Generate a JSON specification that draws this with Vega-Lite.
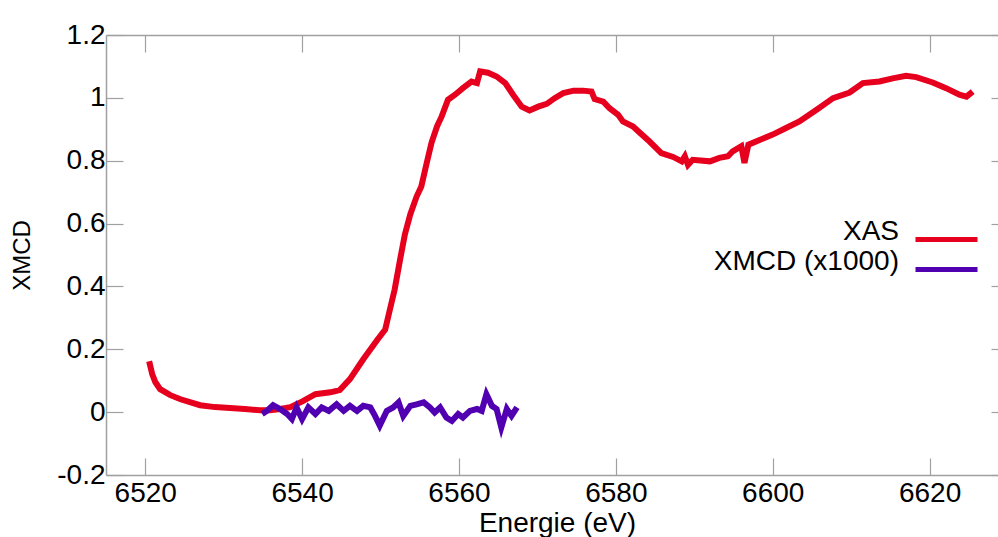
{
  "$schema": "https://vega.github.io/schema/vega-lite/v6.json",
  "autosize": "none",
  "width": 902,
  "height": 440,
  "padding": {"left": 106, "top": 35, "right": 0, "bottom": 62},
  "background": "white",
  "config": {
    "view": {"stroke": null},
    "font": "Liberation Sans",
    "axis": {
      "labelFont": "Liberation Sans",
      "titleFont": "Liberation Sans",
      "labelFontSize": 28,
      "titleFontSize": 28,
      "labelColor": "#000000",
      "titleColor": "#000000",
      "titleFontWeight": "normal",
      "domainColor": "#a0a0a0",
      "tickColor": "#a0a0a0",
      "domainWidth": 1.5,
      "tickWidth": 1.2,
      "grid": false,
      "tickSize": -17
    },
    "legend": {
      "labelFont": "Liberation Sans",
      "labelFontSize": 28,
      "labelColor": "#000000",
      "orient": "none",
      "title": null,
      "symbolType": "stroke",
      "symbolSize": 3844,
      "symbolStrokeWidth": 5,
      "labelAlign": "right",
      "labelBaseline": "alphabetic",
      "labelOffset": -81,
      "labelLimit": 400,
      "padding": 0
    }
  },
  "datasets": {
    "xas": [
      {"e": 6520.5, "v": 0.162}, {"e": 6520.9, "v": 0.12}, {"e": 6521.3, "v": 0.095}, {"e": 6521.9, "v": 0.073},
      {"e": 6523.2, "v": 0.054}, {"e": 6524.5, "v": 0.041}, {"e": 6525.7, "v": 0.032}, {"e": 6527.0, "v": 0.022},
      {"e": 6528.9, "v": 0.016}, {"e": 6530.8, "v": 0.013}, {"e": 6532.7, "v": 0.010}, {"e": 6534.6, "v": 0.006},
      {"e": 6535.9, "v": 0.006}, {"e": 6537.2, "v": 0.010}, {"e": 6538.5, "v": 0.016}, {"e": 6540.1, "v": 0.035},
      {"e": 6541.7, "v": 0.057}, {"e": 6543.6, "v": 0.063}, {"e": 6544.8, "v": 0.070}, {"e": 6546.1, "v": 0.105},
      {"e": 6547.8, "v": 0.168}, {"e": 6549.6, "v": 0.230}, {"e": 6550.6, "v": 0.263}, {"e": 6551.2, "v": 0.327},
      {"e": 6551.8, "v": 0.39}, {"e": 6552.5, "v": 0.486}, {"e": 6553.1, "v": 0.565}, {"e": 6553.8, "v": 0.63},
      {"e": 6554.6, "v": 0.686}, {"e": 6555.2, "v": 0.718}, {"e": 6555.9, "v": 0.794}, {"e": 6556.5, "v": 0.857},
      {"e": 6557.2, "v": 0.909}, {"e": 6557.8, "v": 0.941}, {"e": 6558.6, "v": 0.994}, {"e": 6559.5, "v": 1.01},
      {"e": 6560.5, "v": 1.031}, {"e": 6561.6, "v": 1.052}, {"e": 6562.3, "v": 1.047}, {"e": 6562.7, "v": 1.084},
      {"e": 6563.7, "v": 1.08}, {"e": 6564.8, "v": 1.068}, {"e": 6565.9, "v": 1.047}, {"e": 6566.9, "v": 1.01},
      {"e": 6568.0, "v": 0.972}, {"e": 6569.0, "v": 0.96}, {"e": 6570.1, "v": 0.972}, {"e": 6571.2, "v": 0.981},
      {"e": 6572.2, "v": 0.999}, {"e": 6573.3, "v": 1.015}, {"e": 6574.6, "v": 1.023}, {"e": 6575.8, "v": 1.023},
      {"e": 6576.9, "v": 1.02}, {"e": 6577.3, "v": 0.996}, {"e": 6578.4, "v": 0.988}, {"e": 6579.2, "v": 0.967},
      {"e": 6580.3, "v": 0.946}, {"e": 6580.9, "v": 0.925}, {"e": 6582.2, "v": 0.909}, {"e": 6583.1, "v": 0.888},
      {"e": 6584.3, "v": 0.861}, {"e": 6585.8, "v": 0.824}, {"e": 6587.3, "v": 0.812}, {"e": 6588.4, "v": 0.798},
      {"e": 6588.8, "v": 0.814}, {"e": 6589.2, "v": 0.787}, {"e": 6589.8, "v": 0.803}, {"e": 6592.0, "v": 0.798},
      {"e": 6593.2, "v": 0.809}, {"e": 6594.3, "v": 0.814}, {"e": 6594.9, "v": 0.83}, {"e": 6596.0, "v": 0.846},
      {"e": 6596.4, "v": 0.793}, {"e": 6596.9, "v": 0.851}, {"e": 6598.4, "v": 0.867}, {"e": 6600.0, "v": 0.883},
      {"e": 6601.7, "v": 0.904}, {"e": 6603.4, "v": 0.925}, {"e": 6605.6, "v": 0.962}, {"e": 6607.7, "v": 0.999},
      {"e": 6609.8, "v": 1.017}, {"e": 6611.5, "v": 1.047}, {"e": 6613.6, "v": 1.052}, {"e": 6615.3, "v": 1.062},
      {"e": 6617.0, "v": 1.07}, {"e": 6618.3, "v": 1.066}, {"e": 6620.4, "v": 1.049}, {"e": 6622.1, "v": 1.031},
      {"e": 6623.8, "v": 1.01}, {"e": 6624.7, "v": 1.004}, {"e": 6625.5, "v": 1.02}
    ],
    "xmcd": [
      {"e": 6534.9, "v": -0.006}, {"e": 6535.5, "v": 0.004}, {"e": 6536.3, "v": 0.022}, {"e": 6537.2, "v": 0.010},
      {"e": 6538.1, "v": -0.006}, {"e": 6538.7, "v": -0.022}, {"e": 6539.3, "v": 0.015}, {"e": 6540.0, "v": -0.022},
      {"e": 6540.8, "v": 0.015}, {"e": 6541.7, "v": -0.006}, {"e": 6542.5, "v": 0.015}, {"e": 6543.4, "v": 0.004},
      {"e": 6544.4, "v": 0.025}, {"e": 6545.3, "v": 0.004}, {"e": 6546.1, "v": 0.020}, {"e": 6547.0, "v": 0.004},
      {"e": 6547.8, "v": 0.020}, {"e": 6548.7, "v": 0.015}, {"e": 6549.3, "v": -0.012}, {"e": 6549.9, "v": -0.043},
      {"e": 6550.8, "v": 0.004}, {"e": 6551.6, "v": 0.015}, {"e": 6552.3, "v": 0.031}, {"e": 6552.9, "v": -0.012},
      {"e": 6553.8, "v": 0.020}, {"e": 6554.6, "v": 0.025}, {"e": 6555.5, "v": 0.031}, {"e": 6556.3, "v": 0.015},
      {"e": 6556.9, "v": -0.001}, {"e": 6557.6, "v": 0.015}, {"e": 6558.4, "v": -0.017}, {"e": 6559.1, "v": -0.028},
      {"e": 6559.9, "v": -0.006}, {"e": 6560.5, "v": -0.017}, {"e": 6561.4, "v": 0.004}, {"e": 6562.3, "v": 0.010},
      {"e": 6562.9, "v": 0.004}, {"e": 6563.5, "v": 0.057}, {"e": 6564.2, "v": 0.020}, {"e": 6564.8, "v": 0.010},
      {"e": 6565.4, "v": -0.049}, {"e": 6566.1, "v": 0.010}, {"e": 6566.7, "v": -0.012}, {"e": 6567.4, "v": 0.015}
    ]
  },
  "resolve": {"axis": {"x": "independent", "y": "independent"}, "scale": {"color": "independent"}},
  "layer": [
    {
      "data": {"name": "xas"},
      "transform": [{"calculate": "'XAS'", "as": "series"}],
      "mark": {"type": "line", "strokeWidth": 6, "clip": true},
      "encoding": {
        "x": {"field": "e", "type": "quantitative", "scale": {"domain": [6515, 6630], "nice": false, "zero": false},
          "axis": {"orient": "bottom", "title": "Energie (eV)", "format": "d", "values": [6520, 6540, 6560, 6580, 6600, 6620], "labelPadding": 21, "titlePadding": 2, "labelFlush": false}},
        "y": {"field": "v", "type": "quantitative", "scale": {"domain": [-0.2, 1.2], "nice": false, "zero": false},
          "axis": {"orient": "left", "title": "XMCD", "titleFontSize": 24, "values": [-0.2, 0, 0.2, 0.4, 0.6, 0.8, 1, 1.2], "labelPadding": 18, "titlePadding": 22, "labelFlush": false, "format": "~g", "labelExpr": "replace(datum.label, '\u2212', '-')"}},
        "color": {"field": "series", "type": "nominal",
          "scale": {"domain": ["XAS"], "range": ["#e6001e"]},
          "legend": {"legendX": 807, "legendY": 171}}
      }
    },
    {
      "data": {"name": "xmcd"},
      "transform": [{"calculate": "'XMCD (x1000)'", "as": "series"}],
      "mark": {"type": "line", "strokeWidth": 6, "clip": true},
      "encoding": {
        "x": {"field": "e", "type": "quantitative",
          "axis": {"orient": "top", "title": null, "labels": false, "values": [6520, 6540, 6560, 6580, 6600, 6620]}},
        "y": {"field": "v", "type": "quantitative",
          "axis": {"orient": "right", "title": null, "labels": false, "values": [-0.2, 0, 0.2, 0.4, 0.6, 0.8, 1, 1.2]}},
        "color": {"field": "series", "type": "nominal",
          "scale": {"domain": ["XMCD (x1000)"], "range": ["#5000b0"]},
          "legend": {"legendX": 807, "legendY": 201}}
      }
    }
  ]
}
